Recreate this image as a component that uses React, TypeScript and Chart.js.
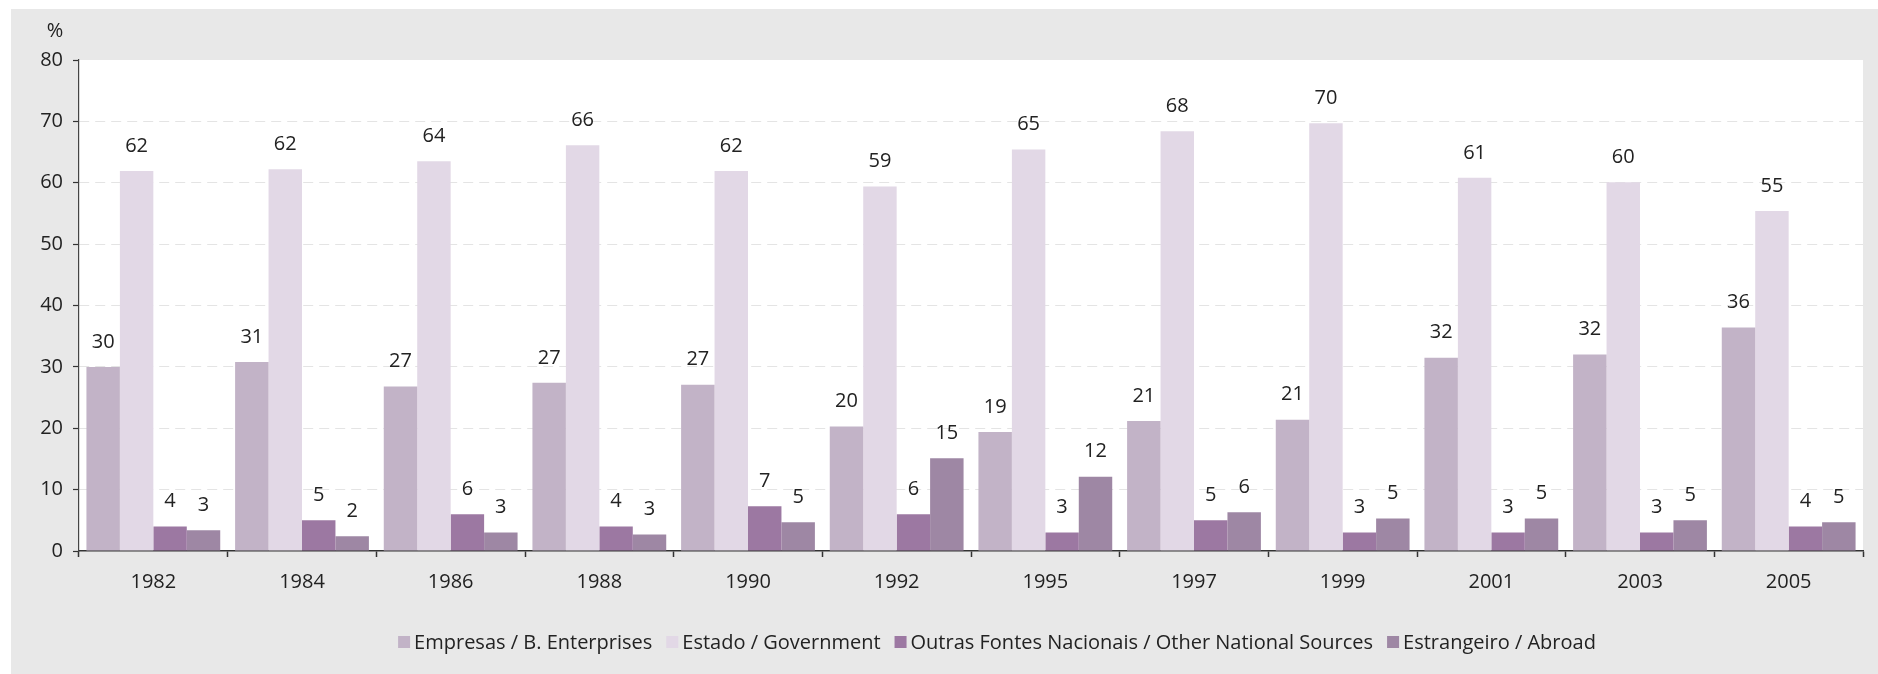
import React, { useEffect, useRef } from "react";
import { Chart, registerables } from "chart.js";

Chart.register(...registerables);

const years = ["1982", "1984", "1986", "1988", "1990", "1992", "1995", "1997", "1999", "2001", "2003", "2005"];
const empresas = [30.0, 30.8, 26.8, 27.4, 27.1, 20.3, 19.4, 21.2, 21.4, 31.5, 32.0, 36.4];
const estado = [61.9, 62.2, 63.5, 66.1, 61.9, 59.4, 65.4, 68.4, 69.7, 60.8, 60.1, 55.4];
const outras = [4.0, 5.0, 6.0, 4.0, 7.3, 6.0, 3.0, 5.0, 3.0, 3.0, 3.0, 4.0];
const estrangeiro = [3.4, 2.4, 3.0, 2.7, 4.7, 15.1, 12.1, 6.3, 5.3, 5.3, 5.0, 4.7];
const seriesNames = [
  "Empresas / B. Enterprises",
  "Estado / Government",
  "Outras Fontes Nacionais / Other National Sources",
  "Estrangeiro / Abroad",
];
const seriesColors = ["#c2b3c7", "#e2d8e6", "#9c78a2", "#9e87a4"];
const yMin = 0;
const yMax = 80;
const yStep = 10;
const unitLabel = "%";

const FONT = "'Open Sans', 'DejaVu Sans', sans-serif";
const TEXT = "#222222";

const decorPlugin = {
  id: "decor",
  beforeDraw(chart: any) {
    const { ctx, chartArea } = chart;
    ctx.save();
    ctx.fillStyle = "#ffffff";
    ctx.fillRect(chartArea.left, chartArea.top, chartArea.right - chartArea.left, chartArea.bottom - chartArea.top);
    ctx.restore();
  },
  afterDatasetsDraw(chart: any) {
    const { ctx } = chart;
    ctx.save();
    ctx.font = `20px ${FONT}`;
    ctx.fillStyle = TEXT;
    ctx.textAlign = "center";
    ctx.textBaseline = "middle";
    chart.data.datasets.forEach((ds: any, di: number) => {
      const meta = chart.getDatasetMeta(di);
      meta.data.forEach((el: any, i: number) => {
        const v = ds.data[i];
        ctx.fillText(String(Math.round(v)), el.x, el.y - 25);
      });
    });
    ctx.restore();
  },
  afterDraw(chart: any) {
    const { ctx } = chart;
    ctx.save();
    ctx.font = `20px ${FONT}`;
    ctx.fillStyle = TEXT;
    ctx.textAlign = "center";
    ctx.textBaseline = "middle";
    ctx.fillText(unitLabel, 44, 22);

    // legend
    const box = 12;
    const boxGap = 4;
    const itemGap = 14;
    const widths = chart.data.datasets.map((d: any) => ctx.measureText(d.label).width);
    let total = 0;
    widths.forEach((w: number, i: number) => {
      total += box + boxGap + w + (i < widths.length - 1 ? itemGap : 0);
    });
    let x = 986 - total / 2;
    const y = 633;
    ctx.textAlign = "left";
    chart.data.datasets.forEach((d: any, i: number) => {
      ctx.fillStyle = d.backgroundColor;
      ctx.fillRect(x, y - box / 2, box, box);
      x += box + boxGap;
      ctx.fillStyle = TEXT;
      ctx.fillText(d.label, x, y + 1);
      x += widths[i] + itemGap;
    });
    ctx.restore();
  },
};

export default function App() {
  const ref = useRef<HTMLCanvasElement | null>(null);
  useEffect(() => {
    if (!ref.current) return;
    const seriesData = [empresas, estado, outras, estrangeiro];
    const chart = new Chart(ref.current, {
      type: "bar",
      data: {
        labels: years,
        datasets: seriesNames.map((name, i) => ({
          label: name,
          data: seriesData[i],
          backgroundColor: seriesColors[i],
          borderWidth: 0,
          categoryPercentage: 0.9,
          barPercentage: 1.0,
        })),
      },
      options: {
        responsive: false,
        animation: false,
        devicePixelRatio: 1,
        layout: { padding: { top: 51, right: 15, bottom: 67, left: 0 } },
        plugins: {
          legend: { display: false },
          tooltip: { enabled: false },
          title: { display: false },
        },
        scales: {
          x: {
            afterFit: (s: any) => {
              s.height = 56;
            },
            grid: {
              display: true,
              offset: true,
              drawOnChartArea: false,
              drawTicks: true,
              tickLength: 6,
              tickColor: "#333333",
              tickWidth: 1.5,
            },
            border: { display: true, color: "#333333", width: 1.5 },
            ticks: {
              color: TEXT,
              font: { family: FONT, size: 20 },
              padding: 13,
              maxRotation: 0,
            },
          },
          y: {
            min: yMin,
            max: yMax,
            afterFit: (s: any) => {
              s.width = 68;
            },
            grid: {
              color: (c: any) =>
                c.tick && (c.tick.value === yMax || c.tick.value === yMin) ? "rgba(0,0,0,0)" : "#e4e4e4",
              lineWidth: 1,
              drawTicks: true,
              tickLength: 6,
              tickColor: "#333333",
              tickWidth: 1.2,
            },
            border: { display: true, color: "#444444", width: 1.2, dash: [10, 6] },
            ticks: {
              stepSize: yStep,
              color: TEXT,
              font: { family: FONT, size: 20 },
              padding: 10,
            },
          },
        },
      },
      plugins: [decorPlugin],
    });
    return () => chart.destroy();
  }, []);

  return (
    <div
      style={{
        position: "fixed",
        left: 11,
        top: 9,
        width: 1867,
        height: 665,
        background: "#e8e8e8",
      }}
    >
      <canvas ref={ref} width={1867} height={665} style={{ display: "block" }} />
    </div>
  );
}
